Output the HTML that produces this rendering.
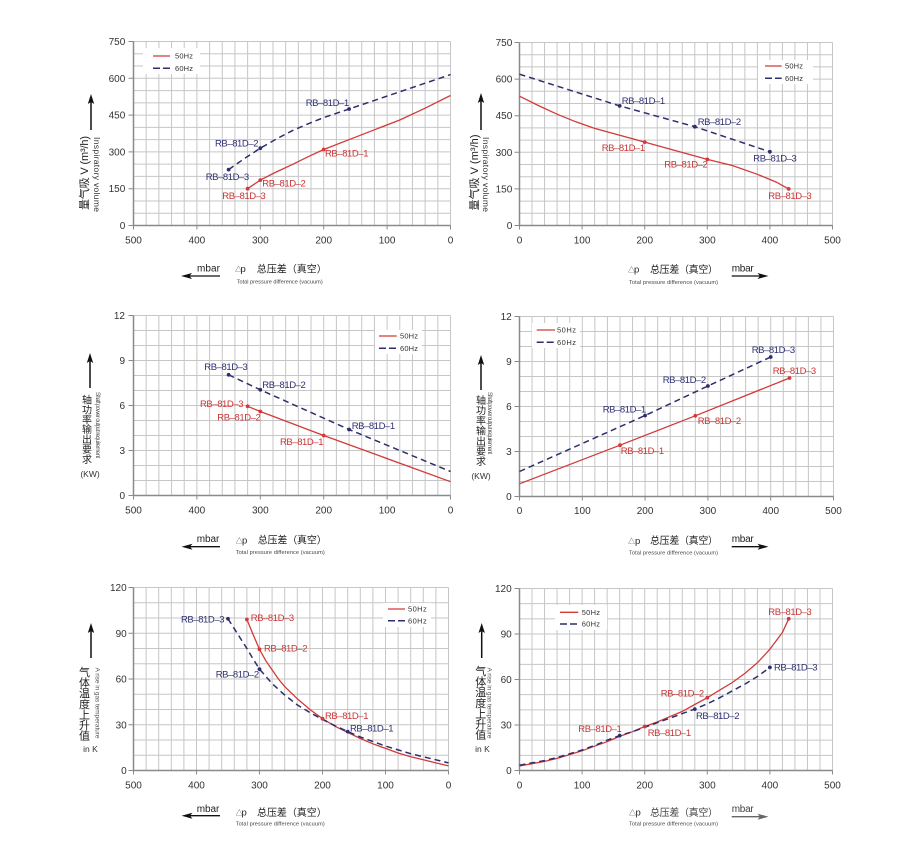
<!DOCTYPE html>
<html><head><meta charset="utf-8">
<style>
html,body{margin:0;padding:0;background:#fff;}
svg{display:block;}
text{font-family:"Liberation Sans","Noto Sans CJK SC",sans-serif;}
.t{font-size:10px;fill:#333;}
.lab{font-size:9.5px;}
.r{fill:#c83434;}
.b{fill:#2e2e72;}
.lg{font-size:7.5px;fill:#333;}
.ax{font-size:10px;fill:#222;}
.sm{font-size:5.6px;fill:#444;}
.cn{font-size:10px;fill:#222;}
.rl{fill:none;stroke:#d23a3a;stroke-width:1.3;}
.nl{fill:none;stroke:#2e2e6e;stroke-width:1.5;stroke-dasharray:6 4;}
.axis{fill:none;stroke:#8a8a8a;stroke-width:1.5;}
.tk{fill:none;stroke:#8a8a8a;stroke-width:1;}
</style></head>
<body>
<svg width="920" height="862" viewBox="0 0 920 862" xmlns="http://www.w3.org/2000/svg">
<defs>
<path id="g15" fill="none" stroke="#c6c6c6" stroke-width="1" vector-effect="non-scaling-stroke" d="M0 0V15M1 0V15M2 0V15M3 0V15M4 0V15M5 0V15M6 0V15M7 0V15M8 0V15M9 0V15M10 0V15M11 0V15M12 0V15M13 0V15M14 0V15M15 0V15M16 0V15M17 0V15M18 0V15M19 0V15M20 0V15M21 0V15M22 0V15M23 0V15M24 0V15M25 0V15M0 0H25M0 1H25M0 2H25M0 3H25M0 4H25M0 5H25M0 6H25M0 7H25M0 8H25M0 9H25M0 10H25M0 11H25M0 12H25M0 13H25M0 14H25M0 15H25"/>
<path id="g12" fill="none" stroke="#c6c6c6" stroke-width="1" vector-effect="non-scaling-stroke" d="M0 0V12M1 0V12M2 0V12M3 0V12M4 0V12M5 0V12M6 0V12M7 0V12M8 0V12M9 0V12M10 0V12M11 0V12M12 0V12M13 0V12M14 0V12M15 0V12M16 0V12M17 0V12M18 0V12M19 0V12M20 0V12M21 0V12M22 0V12M23 0V12M24 0V12M25 0V12M0 0H25M0 1H25M0 2H25M0 3H25M0 4H25M0 5H25M0 6H25M0 7H25M0 8H25M0 9H25M0 10H25M0 11H25M0 12H25"/>
</defs>
<rect width="920" height="862" fill="#fff"/>

<!-- ================= CHART 1 ================= -->
<svg x="133.5" y="41.5" width="317" height="184" viewBox="0 0 25 15" preserveAspectRatio="none" overflow="visible"><use href="#g15"/></svg>
<path class="axis" d="M133.5,41.5V225.5H450.5"/>
<path class="tk" d="M128.5,41.5H133.5M128.5,78.3H133.5M128.5,115.1H133.5M128.5,151.9H133.5M128.5,188.7H133.5M128.5,225.5H133.5M133.5,225.5V229.5M196.9,225.5V229.5M260.3,225.5V229.5M323.7,225.5V229.5M387.1,225.5V229.5M450.5,225.5V229.5"/>
<g class="t" text-anchor="end">
<text x="125.3" y="45">750</text><text x="125.3" y="81.8">600</text><text x="125.3" y="118.6">450</text><text x="125.3" y="155.4">300</text><text x="125.3" y="192.2">150</text><text x="125.3" y="229">0</text>
</g>
<g class="t" text-anchor="middle">
<text x="133.5" y="243.5">500</text><text x="196.9" y="243.5">400</text><text x="260.3" y="243.5">300</text><text x="323.7" y="243.5">200</text><text x="387.1" y="243.5">100</text><text x="450.5" y="243.5">0</text>
</g>
<rect x="143" y="48" width="57" height="26" fill="#fff"/>
<line x1="153" y1="56" x2="170" y2="56" stroke="#d23a3a" stroke-width="1.3"/>
<line x1="153" y1="68.3" x2="170" y2="68.3" stroke="#2e2e6e" stroke-width="1.5" stroke-dasharray="7 3"/>
<text class="lg" x="175" y="58.7" textLength="18">50Hz</text>
<text class="lg" x="175" y="71" textLength="18">60Hz</text>
<polyline class="rl" points="247.6,188.7 260.3,180.1 276.2,172.0 292.0,164.7 307.9,156.8 323.7,149.5 355.4,137.2 374.4,129.8 399.8,120.0 425.1,108.2 450.5,95.5"/>
<polyline class="nl" points="228.6,169.6 244.5,158.5 260.3,148.2 276.2,139.1 292.0,130.8 307.9,123.9 323.7,117.6 349.1,109.0 374.4,100.4 399.8,91.8 425.1,83.2 450.5,74.6"/>
<g fill="#d23a3a"><circle cx="247.6" cy="188.7" r="1.9"/><circle cx="260.3" cy="180.1" r="1.9"/><circle cx="323.7" cy="149.5" r="1.9"/></g>
<g fill="#2e2e6e"><circle cx="228.6" cy="169.6" r="1.9"/><circle cx="260.3" cy="148.2" r="1.9"/><circle cx="349.1" cy="109.0" r="1.9"/></g>
<g class="lab">
<text class="b" x="305.7" y="106" textLength="43.5">RB–81D–1</text>
<text class="b" x="215" y="146.5" textLength="43.5">RB–81D–2</text>
<text class="b" x="205.7" y="180" textLength="43.5">RB–81D–3</text>
<text class="r" x="325" y="156.5" textLength="43.5">RB–81D–1</text>
<text class="r" x="262.3" y="186.5" textLength="43.5">RB–81D–2</text>
<text class="r" x="222.3" y="199.2" textLength="43.5">RB–81D–3</text>
</g>
<line x1="91" y1="100" x2="91" y2="130" stroke="#111" stroke-width="1.5"/>
<polygon points="91,94 87.8,104 91,102 94.2,104" fill="#111"/>
<text transform="translate(85,173) rotate(-90)" text-anchor="middle" dominant-baseline="central" style="font-size:11px;fill:#222" textLength="74">量气吸 V (m³/h)</text>
<text transform="translate(97,174.5) rotate(90)" text-anchor="middle" dominant-baseline="central" style="font-size:8.5px;fill:#333" textLength="75">Inspiratory volume</text>
<line x1="186" y1="276" x2="220" y2="276" stroke="#111" stroke-width="1.3"/>
<polygon points="181,276 192,273 189.5,276 192,279" fill="#111"/>
<text class="ax" x="197" y="271.5" textLength="23">mbar</text>
<text x="235" y="271.5" style="font-size:7px;fill:#444">△</text>
<text class="ax" x="240.5" y="272" style="font-size:9.5px">p</text>
<text class="cn" x="256.7" y="272.5" textLength="70">总压差（真空）</text>
<text class="sm" x="236.7" y="283.5" textLength="86">Total pressure difference (vacuum)</text>

<!-- ================= CHART 2 ================= -->
<svg x="519.5" y="42.5" width="313" height="183" viewBox="0 0 25 15" preserveAspectRatio="none" overflow="visible"><use href="#g15"/></svg>
<path class="axis" d="M519.5,42.5V225.5H832.5"/>
<path class="tk" d="M514.5,42.5H519.5M514.5,79.1H519.5M514.5,115.7H519.5M514.5,152.3H519.5M514.5,188.9H519.5M514.5,225.5H519.5M519.5,225.5V229.5M582.1,225.5V229.5M644.7,225.5V229.5M707.3,225.5V229.5M769.9,225.5V229.5M832.5,225.5V229.5"/>
<g class="t" text-anchor="end">
<text x="512.3" y="46">750</text><text x="512.3" y="82.6">600</text><text x="512.3" y="119.2">450</text><text x="512.3" y="155.8">300</text><text x="512.3" y="192.4">150</text><text x="512.3" y="229">0</text>
</g>
<g class="t" text-anchor="middle">
<text x="519.5" y="243.5">0</text><text x="582.1" y="243.5">100</text><text x="644.7" y="243.5">200</text><text x="707.3" y="243.5">300</text><text x="769.9" y="243.5">400</text><text x="832.5" y="243.5">500</text>
</g>
<rect x="758" y="60" width="55" height="24" fill="#fff"/>
<line x1="765" y1="66" x2="781.7" y2="66" stroke="#d23a3a" stroke-width="1.3"/>
<line x1="765" y1="78.3" x2="781.7" y2="78.3" stroke="#2e2e6e" stroke-width="1.5" stroke-dasharray="7 3"/>
<text class="lg" x="785" y="68.7" textLength="18">50Hz</text>
<text class="lg" x="785" y="81" textLength="18">60Hz</text>
<polyline class="rl" points="519.5,96.2 538.3,105.5 557.1,114.2 575.8,121.8 594.6,128.4 619.7,135.2 644.7,142.1 676.0,150.8 707.3,159.4 732.3,165.5 757.4,174.3 776.2,182.1 788.7,188.9"/>
<polyline class="nl" points="519.5,74.2 619.7,105.9 694.8,126.7 769.9,151.8"/>
<g fill="#d23a3a"><circle cx="644.7" cy="142.1" r="1.9"/><circle cx="707.3" cy="159.4" r="1.9"/><circle cx="788.7" cy="188.9" r="1.9"/></g>
<g fill="#2e2e6e"><circle cx="619.7" cy="105.9" r="1.9"/><circle cx="694.8" cy="126.7" r="1.9"/><circle cx="769.9" cy="151.8" r="1.9"/></g>
<g class="lab">
<text class="b" x="621.7" y="104.2" textLength="43.5">RB–81D–1</text>
<text class="b" x="697.7" y="125" textLength="43.5">RB–81D–2</text>
<text class="b" x="753.3" y="161.5" textLength="43.5">RB–81D–3</text>
<text class="r" x="601.7" y="151" textLength="43.5">RB–81D–1</text>
<text class="r" x="664.3" y="167.5" textLength="43.5">RB–81D–2</text>
<text class="r" x="768.3" y="199" textLength="43.5">RB–81D–3</text>
</g>
<line x1="481" y1="99" x2="481" y2="130" stroke="#111" stroke-width="1.5"/>
<polygon points="481,93 477.8,103 481,101 484.2,103" fill="#111"/>
<text transform="translate(475,172.5) rotate(-90)" text-anchor="middle" dominant-baseline="central" style="font-size:11px;fill:#222" textLength="76">量气吸 V (m³/h)</text>
<text transform="translate(486,174.5) rotate(90)" text-anchor="middle" dominant-baseline="central" style="font-size:8.5px;fill:#333" textLength="75">Inspiratory volume</text>
<text x="628" y="272" style="font-size:7px;fill:#444">△</text>
<text class="ax" x="634" y="272.5" style="font-size:9.5px">p</text>
<text class="cn" x="650" y="273" textLength="68">总压差（真空）</text>
<text class="ax" x="731.7" y="271.5" textLength="22">mbar</text>
<line x1="731.7" y1="276" x2="763" y2="276" stroke="#111" stroke-width="1.3"/>
<polygon points="768.5,276 757.5,273 760,276 757.5,279" fill="#111"/>
<text class="sm" x="629" y="284" textLength="89">Total pressure difference (vacuum)</text>

<!-- ================= CHART 3 ================= -->
<svg x="133.5" y="315.5" width="317" height="180" viewBox="0 0 25 12" preserveAspectRatio="none" overflow="visible"><use href="#g12"/></svg>
<path class="axis" d="M133.5,315.5V495.5H450.5"/>
<path class="tk" d="M128.5,315.5H133.5M128.5,360.5H133.5M128.5,405.5H133.5M128.5,450.5H133.5M128.5,495.5H133.5M133.5,495.5V499.5M196.9,495.5V499.5M260.3,495.5V499.5M323.7,495.5V499.5M387.1,495.5V499.5M450.5,495.5V499.5"/>
<g class="t" text-anchor="end">
<text x="125" y="319">12</text><text x="125" y="364">9</text><text x="125" y="409">6</text><text x="125" y="454">3</text><text x="125" y="499">0</text>
</g>
<g class="t" text-anchor="middle">
<text x="133.5" y="513.5">500</text><text x="196.9" y="513.5">400</text><text x="260.3" y="513.5">300</text><text x="323.7" y="513.5">200</text><text x="387.1" y="513.5">100</text><text x="450.5" y="513.5">0</text>
</g>
<rect x="375" y="330" width="47" height="24" fill="#fff"/>
<line x1="379" y1="336" x2="396.7" y2="336" stroke="#d23a3a" stroke-width="1.3"/>
<line x1="379" y1="348.3" x2="396.7" y2="348.3" stroke="#2e2e6e" stroke-width="1.5" stroke-dasharray="7 3"/>
<text class="lg" x="400" y="338.7" textLength="18">50Hz</text>
<text class="lg" x="400" y="351" textLength="18">60Hz</text>
<polyline class="rl" points="247.6,406.3 260.3,411.5 323.7,435.5 450.5,481.7"/>
<polyline class="nl" points="228.6,374.8 260.3,389.8 349.1,429.5 450.5,471.5"/>
<g fill="#d23a3a"><circle cx="247.6" cy="406.3" r="1.9"/><circle cx="260.3" cy="411.5" r="1.9"/><circle cx="323.7" cy="435.5" r="1.9"/></g>
<g fill="#2e2e6e"><circle cx="228.6" cy="374.8" r="1.9"/><circle cx="260.3" cy="389.8" r="1.9"/><circle cx="349.1" cy="429.5" r="1.9"/></g>
<g class="lab">
<text class="b" x="204.3" y="370" textLength="43.5">RB–81D–3</text>
<text class="b" x="262.3" y="388.2" textLength="43.5">RB–81D–2</text>
<text class="b" x="351.7" y="429" textLength="43.5">RB–81D–1</text>
<text class="r" x="200" y="407.2" textLength="43.5">RB–81D–3</text>
<text class="r" x="217.3" y="420.5" textLength="43.5">RB–81D–2</text>
<text class="r" x="280" y="445" textLength="43.5">RB–81D–1</text>
</g>
<line x1="90" y1="359" x2="90" y2="388" stroke="#111" stroke-width="1.5"/>
<polygon points="90,353 86.8,363 90,361 93.2,363" fill="#111"/>
<g class="cn" text-anchor="middle">
<text x="87" y="403.5">轴</text><text x="87" y="413.4">功</text><text x="87" y="423.3">率</text><text x="87" y="433.2">输</text><text x="87" y="443.1">出</text><text x="87" y="453">要</text><text x="87" y="462.9">求</text>
</g>
<text x="90" y="477" text-anchor="middle" style="font-size:8.5px;fill:#333">(KW)</text>
<text transform="translate(97,425) rotate(90)" text-anchor="middle" dominant-baseline="central" style="font-size:6px;fill:#555" textLength="66">Shaft power output requirement</text>
<line x1="186" y1="546.7" x2="220" y2="546.7" stroke="#111" stroke-width="1.3"/>
<polygon points="181.5,546.7 192.5,543.7 190,546.7 192.5,549.7" fill="#111"/>
<text class="ax" x="196.7" y="541.8" textLength="22.6">mbar</text>
<text x="235.7" y="543" style="font-size:7px;fill:#444">△</text>
<text class="ax" x="242" y="543.5" style="font-size:9.5px">p</text>
<text class="cn" x="257.7" y="543.6" textLength="69">总压差（真空）</text>
<text class="sm" x="235.7" y="554" textLength="89">Total pressure difference (vacuum)</text>

<!-- ================= CHART 4 ================= -->
<svg x="519.5" y="316.5" width="314" height="180" viewBox="0 0 25 12" preserveAspectRatio="none" overflow="visible"><use href="#g12"/></svg>
<path class="axis" d="M519.5,316.5V496.5H833.5"/>
<path class="tk" d="M514.5,316.5H519.5M514.5,361.5H519.5M514.5,406.5H519.5M514.5,451.5H519.5M514.5,496.5H519.5M519.5,496.5V500.5M582.3,496.5V500.5M645.1,496.5V500.5M707.9,496.5V500.5M770.7,496.5V500.5M833.5,496.5V500.5"/>
<g class="t" text-anchor="end">
<text x="511.7" y="320">12</text><text x="511.7" y="365">9</text><text x="511.7" y="410">6</text><text x="511.7" y="455">3</text><text x="511.7" y="500">0</text>
</g>
<g class="t" text-anchor="middle">
<text x="519.5" y="514">0</text><text x="582.3" y="514">100</text><text x="645.1" y="514">200</text><text x="707.9" y="514">300</text><text x="770.7" y="514">400</text><text x="833.5" y="514">500</text>
</g>
<rect x="532" y="323" width="48" height="25" fill="#fff"/>
<line x1="536.7" y1="330" x2="555" y2="330" stroke="#d23a3a" stroke-width="1.3"/>
<line x1="536.7" y1="342.3" x2="555" y2="342.3" stroke="#2e2e6e" stroke-width="1.5" stroke-dasharray="7 3"/>
<text class="lg" x="557" y="332.7" textLength="19">50Hz</text>
<text class="lg" x="557" y="345" textLength="19">60Hz</text>
<polyline class="rl" points="519.5,483.8 620.0,445.2 695.3,415.8 789.5,378.0"/>
<polyline class="nl" points="519.5,471.5 645.1,415.5 707.9,386.0 770.7,357.0"/>
<g fill="#d23a3a"><circle cx="620.0" cy="445.2" r="1.9"/><circle cx="695.3" cy="415.8" r="1.9"/><circle cx="789.5" cy="378.0" r="1.9"/></g>
<g fill="#2e2e6e"><circle cx="645.1" cy="415.5" r="1.9"/><circle cx="707.9" cy="386.0" r="1.9"/><circle cx="770.7" cy="357.0" r="1.9"/></g>
<g class="lab">
<text class="b" x="751.7" y="353.2" textLength="43.5">RB–81D–3</text>
<text class="b" x="662.7" y="383.2" textLength="43.5">RB–81D–2</text>
<text class="b" x="602.7" y="412.5" textLength="43.5">RB–81D–1</text>
<text class="r" x="772.7" y="374.2" textLength="43.5">RB–81D–3</text>
<text class="r" x="697.7" y="424.2" textLength="43.5">RB–81D–2</text>
<text class="r" x="620.7" y="454" textLength="43.5">RB–81D–1</text>
</g>
<line x1="481" y1="361" x2="481" y2="390" stroke="#111" stroke-width="1.5"/>
<polygon points="481,355 477.8,365 481,363 484.2,365" fill="#111"/>
<g class="cn" text-anchor="middle">
<text x="481" y="404">轴</text><text x="481" y="414.2">功</text><text x="481" y="424.4">率</text><text x="481" y="434.6">输</text><text x="481" y="444.8">出</text><text x="481" y="455">要</text><text x="481" y="465.2">求</text>
</g>
<text x="481" y="479" text-anchor="middle" style="font-size:8.5px;fill:#333">(KW)</text>
<text transform="translate(489,423) rotate(90)" text-anchor="middle" dominant-baseline="central" style="font-size:6px;fill:#555" textLength="62">Shaft power output requirement</text>
<text x="628" y="543.5" style="font-size:7px;fill:#444">△</text>
<text class="ax" x="635" y="544" style="font-size:9.5px">p</text>
<text class="cn" x="650" y="544.2" textLength="68">总压差（真空）</text>
<text class="ax" x="731.7" y="541.8" textLength="22">mbar</text>
<line x1="731.7" y1="546.7" x2="763" y2="546.7" stroke="#111" stroke-width="1.3"/>
<polygon points="768.5,546.7 757.5,543.7 760,546.7 757.5,549.7" fill="#111"/>
<text class="sm" x="629" y="554.7" textLength="89">Total pressure difference (vacuum)</text>

<!-- ================= CHART 5 ================= -->
<svg x="133.5" y="587.5" width="315" height="183" viewBox="0 0 25 12" preserveAspectRatio="none" overflow="visible"><use href="#g12"/></svg>
<path class="axis" d="M133.5,587.5V770.5H448.5"/>
<path class="tk" d="M128.5,587.5H133.5M128.5,633.25H133.5M128.5,679H133.5M128.5,724.75H133.5M128.5,770.5H133.5M133.5,770.5V774.5M196.5,770.5V774.5M259.5,770.5V774.5M322.5,770.5V774.5M385.5,770.5V774.5M448.5,770.5V774.5"/>
<g class="t" text-anchor="end">
<text x="126.7" y="591">120</text><text x="126.7" y="636.75">90</text><text x="126.7" y="682.5">60</text><text x="126.7" y="728.25">30</text><text x="126.7" y="774">0</text>
</g>
<g class="t" text-anchor="middle">
<text x="133.5" y="788.5">500</text><text x="196.5" y="788.5">400</text><text x="259.5" y="788.5">300</text><text x="322.5" y="788.5">200</text><text x="385.5" y="788.5">100</text><text x="448.5" y="788.5">0</text>
</g>
<rect x="383" y="603" width="48" height="24" fill="#fff"/>
<line x1="388" y1="609" x2="405" y2="609" stroke="#d23a3a" stroke-width="1.3"/>
<line x1="388" y1="620.7" x2="405" y2="620.7" stroke="#2e2e6e" stroke-width="1.5" stroke-dasharray="7 3"/>
<text class="lg" x="408" y="611.7" textLength="18.7">50Hz</text>
<text class="lg" x="408" y="623.4" textLength="18.7">60Hz</text>
<polyline class="rl" points="246.9,619.5 253.2,634.8 259.5,649.3 265.8,660.7 272.1,669.9 278.4,679.0 284.7,686.6 297.3,698.8 309.9,709.5 322.5,718.7 335.1,726.3 347.7,732.4 360.3,738.5 372.9,743.8 385.5,748.4 398.1,753.0 410.7,756.8 423.3,759.8 435.9,762.9 448.5,765.9"/>
<polyline class="nl" points="228.0,618.8 234.3,628.7 240.6,638.6 246.9,648.5 253.2,659.2 259.5,669.1 272.1,683.6 284.7,695.0 297.3,704.9 309.9,712.6 322.5,719.4 335.1,725.8 347.7,731.6 360.3,737.0 372.9,741.5 385.5,746.1 398.1,749.9 410.7,753.7 423.3,756.8 435.9,759.8 448.5,762.9"/>
<g fill="#d23a3a"><circle cx="246.9" cy="619.5" r="1.9"/><circle cx="259.5" cy="649.3" r="1.9"/><circle cx="322.5" cy="718.7" r="1.9"/></g>
<g fill="#2e2e6e"><circle cx="228.0" cy="618.8" r="1.9"/><circle cx="259.5" cy="669.1" r="1.9"/><circle cx="347.7" cy="731.6" r="1.9"/></g>
<g class="lab">
<text class="b" x="181" y="622.5" textLength="43.5">RB–81D–3</text>
<text class="r" x="250.7" y="621" textLength="43.5">RB–81D–3</text>
<text class="r" x="264" y="651.5" textLength="43.5">RB–81D–2</text>
<text class="b" x="215.7" y="677.5" textLength="43.5">RB–81D–2</text>
<text class="r" x="325" y="719" textLength="43.5">RB–81D–1</text>
<text class="b" x="350" y="731.5" textLength="43.5">RB–81D–1</text>
</g>
<line x1="91" y1="629" x2="91" y2="658" stroke="#111" stroke-width="1.5"/>
<polygon points="91,623 87.8,633 91,631 94.2,633" fill="#111"/>
<g class="cn" text-anchor="middle" style="font-size:11px">
<text x="84.5" y="676">气</text><text x="84.5" y="686.6">体</text><text x="84.5" y="697.2">温</text><text x="84.5" y="707.8">度</text><text x="84.5" y="718.4">上</text><text x="84.5" y="729">升</text><text x="84.5" y="739.6">值</text>
</g>
<text x="90.5" y="752" text-anchor="middle" style="font-size:8.5px;fill:#333">in K</text>
<text transform="translate(97,703) rotate(90)" text-anchor="middle" dominant-baseline="central" style="font-size:6.5px;fill:#555" textLength="71">A rise in gas temperature</text>
<line x1="186" y1="815.7" x2="220" y2="815.7" stroke="#111" stroke-width="1.3"/>
<polygon points="181.5,815.7 192.5,812.7 190,815.7 192.5,818.7" fill="#111"/>
<text class="ax" x="196.7" y="811.8" textLength="22.6">mbar</text>
<text x="235.7" y="815" style="font-size:7px;fill:#444">△</text>
<text class="ax" x="241.5" y="815.5" style="font-size:9.5px">p</text>
<text class="cn" x="257" y="815.8" textLength="69.7">总压差（真空）</text>
<text class="sm" x="235.7" y="825.3" textLength="89">Total pressure difference (vacuum)</text>

<!-- ================= CHART 6 ================= -->
<svg x="519.5" y="588.5" width="313" height="182" viewBox="0 0 25 12" preserveAspectRatio="none" overflow="visible"><use href="#g12"/></svg>
<path class="axis" d="M519.5,588.5V770.5H832.5"/>
<path class="tk" d="M514.5,588.5H519.5M514.5,634H519.5M514.5,679.5H519.5M514.5,725H519.5M514.5,770.5H519.5M519.5,770.5V774.5M582.1,770.5V774.5M644.7,770.5V774.5M707.3,770.5V774.5M769.9,770.5V774.5M832.5,770.5V774.5"/>
<g class="t" text-anchor="end">
<text x="511.7" y="592">120</text><text x="511.7" y="637.5">90</text><text x="511.7" y="683">60</text><text x="511.7" y="728.5">30</text><text x="511.7" y="774">0</text>
</g>
<g class="t" text-anchor="middle">
<text x="519.5" y="788.5">0</text><text x="582.1" y="788.5">100</text><text x="644.7" y="788.5">200</text><text x="707.3" y="788.5">300</text><text x="769.9" y="788.5">400</text><text x="832.5" y="788.5">500</text>
</g>
<rect x="555" y="605" width="52" height="25" fill="#fff"/>
<line x1="560" y1="612.3" x2="578.3" y2="612.3" stroke="#d23a3a" stroke-width="1.3"/>
<line x1="560" y1="624" x2="578.3" y2="624" stroke="#2e2e6e" stroke-width="1.5" stroke-dasharray="7 3"/>
<text class="lg" x="581.7" y="615" textLength="18.3">50Hz</text>
<text class="lg" x="581.7" y="626.7" textLength="18.3">60Hz</text>
<polyline class="rl" points="519.5,766.0 532.0,763.7 544.5,761.4 557.1,758.4 569.6,754.6 582.1,750.8 594.6,746.2 607.1,741.7 619.7,736.4 632.2,731.8 644.7,726.5 657.2,722.0 669.7,716.7 682.3,711.4 694.8,704.5 707.3,697.7 719.8,690.1 732.3,682.5 744.9,673.4 757.4,662.8 769.9,649.2 782.4,632.5 788.7,618.8"/>
<polyline class="nl" points="519.5,765.2 532.0,762.9 544.5,760.6 557.1,757.6 569.6,753.8 582.1,750.0 594.6,745.5 607.1,740.2 619.7,735.6 632.2,731.8 644.7,727.3 657.2,722.7 669.7,718.2 682.3,713.6 694.8,709.1 707.3,703.8 719.8,697.7 732.3,690.9 744.9,684.1 757.4,676.5 769.9,667.4"/>
<g fill="#d23a3a"><circle cx="644.7" cy="726.5" r="1.9"/><circle cx="707.3" cy="697.7" r="1.9"/><circle cx="788.7" cy="618.8" r="1.9"/></g>
<g fill="#2e2e6e"><circle cx="619.7" cy="735.6" r="1.9"/><circle cx="694.8" cy="709.1" r="1.9"/><circle cx="769.9" cy="667.4" r="1.9"/></g>
<g class="lab">
<text class="r" x="768.3" y="615" textLength="43.5">RB–81D–3</text>
<text class="b" x="774" y="670.5" textLength="43.5">RB–81D–3</text>
<text class="r" x="660.7" y="696.5" textLength="43.5">RB–81D–2</text>
<text class="b" x="696" y="719.2" textLength="43.5">RB–81D–2</text>
<text class="r" x="578.3" y="732.2" textLength="43.5">RB–81D–1</text>
<text class="r" x="647.7" y="736" textLength="43.5">RB–81D–1</text>
</g>
<line x1="481.7" y1="629" x2="481.7" y2="658" stroke="#111" stroke-width="1.5"/>
<polygon points="481.7,623 478.5,633 481.7,631 484.9,633" fill="#111"/>
<g class="cn" text-anchor="middle" style="font-size:11px">
<text x="480.7" y="675">气</text><text x="480.7" y="685.6">体</text><text x="480.7" y="696.2">温</text><text x="480.7" y="706.8">度</text><text x="480.7" y="717.4">上</text><text x="480.7" y="728">升</text><text x="480.7" y="738.6">值</text>
</g>
<text x="482.5" y="752" text-anchor="middle" style="font-size:8.5px;fill:#333">in K</text>
<text transform="translate(489,703) rotate(90)" text-anchor="middle" dominant-baseline="central" style="font-size:6.5px;fill:#555" textLength="71">A rise in gas temperature</text>
<text x="629" y="815" style="font-size:7px;fill:#444">△</text>
<text class="ax" x="635.5" y="815.5" style="font-size:9.5px">p</text>
<text class="cn" x="650" y="815.8" textLength="68" style="fill:#444">总压差（真空）</text>
<text class="ax" x="731.7" y="811.8" textLength="22" style="fill:#444">mbar</text>
<line x1="731.7" y1="816.7" x2="763" y2="816.7" stroke="#666" stroke-width="1.3"/>
<polygon points="768.5,816.7 757.5,813.7 760,816.7 757.5,819.7" fill="#666"/>
<text class="sm" x="629" y="825.3" textLength="89">Total pressure difference (vacuum)</text>
</svg>
</body></html>
